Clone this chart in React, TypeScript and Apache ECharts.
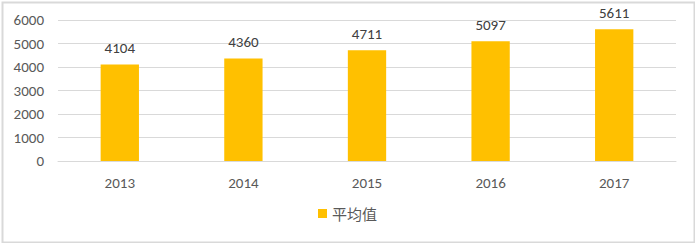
import React, { useEffect, useRef } from "react";
import * as echarts from "echarts";

const years = ["2013", "2014", "2015", "2016", "2017"];
const averages = [4104, 4360, 4711, 5097, 5611];
const seriesName = "平均值";

const FONT = "Carlito, Calibri, Lato, 'Noto Sans CJK SC', sans-serif";

export default function App() {
  const ref = useRef<HTMLDivElement>(null);

  useEffect(() => {
    if (!ref.current) return;
    const chart = echarts.init(ref.current, undefined, { renderer: "svg" });
    chart.setOption({
      animation: false,
      backgroundColor: "#ffffff",
      textStyle: { fontFamily: FONT },
      graphic: [
        {
          type: "rect",
          left: 0,
          top: 0,
          shape: { x: 1, y: 1, width: 692, height: 240 },
          style: { fill: "none", stroke: "#d9d9d9", lineWidth: 2 },
          silent: true,
        },
      ],
      grid: { left: 58, right: 19, top: 20, bottom: 82 },
      legend: {
        bottom: 17,
        left: "center",
        icon: "rect",
        itemWidth: 9,
        itemHeight: 9,
        itemGap: 5,
        textStyle: {
          color: "#595959",
          fontSize: 15,
          fontFamily: "'Noto Sans CJK SC', sans-serif",
        },
        data: [seriesName],
      },
      xAxis: {
        type: "category",
        data: years,
        axisLine: { lineStyle: { color: "#d9d9d9", width: 1 } },
        axisTick: { show: false },
        axisLabel: { color: "#595959", fontSize: 15, margin: 14 },
      },
      yAxis: {
        type: "value",
        min: 0,
        max: 6000,
        interval: 1000,
        axisLine: { show: false },
        axisTick: { show: false },
        axisLabel: {
          color: "#595959",
          fontSize: 15,
          margin: 14,
          formatter: (v: number) => String(v),
        },
        splitLine: { lineStyle: { color: "#d9d9d9", width: 1 } },
      },
      series: [
        {
          name: seriesName,
          type: "bar",
          data: averages,
          barWidth: "31%",
          itemStyle: { color: "#ffc000" },
          label: {
            show: true,
            position: "top",
            distance: 9,
            color: "#404040",
            fontSize: 15,
          },
        },
      ],
    });
    return () => chart.dispose();
  }, []);

  return (
    <div
      ref={ref}
      style={{ position: "fixed", left: 0, top: 0, width: 695, height: 243 }}
    />
  );
}
